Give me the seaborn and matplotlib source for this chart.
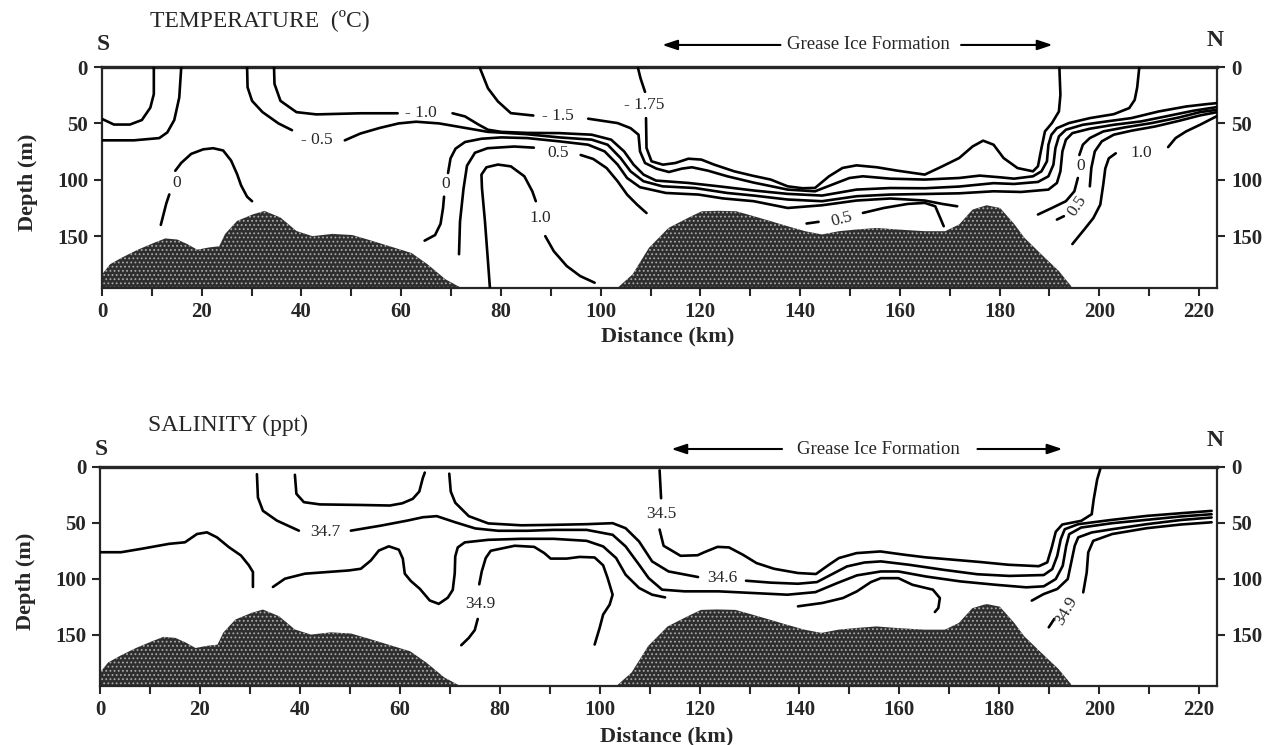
import pandas as pd
import seaborn as sns
import matplotlib.pyplot as plt

# ---------------- temperature section: isotherm strokes (km, depth m) ----------------
t_sw_inner = [(10.4, 0), (10.4, 24), (9.7, 36), (8.0, 47), (5.6, 51), (2.4, 51), (0, 46)]
t_sw_outer = [(15.9, 0), (15.5, 27), (14.5, 47), (13.1, 58), (11.5, 63), (6.4, 65), (0, 65)]
t_0_dome_lo = [(11.8, 140), (12.9, 121), (13.5, 113)]
t_0_dome_hi = [(14.7, 92), (15.9, 85), (17.9, 77), (20.3, 73), (22.3, 72), (24.3, 74), (25.9, 83),
               (27.1, 95), (27.9, 105), (29.1, 115), (30.1, 119)]
t_m05_a = [(29.1, 0), (29.2, 18), (30.1, 30), (32.2, 40), (35.4, 50), (38.1, 56)]
t_m05_b = [(48.7, 65), (51.8, 59), (55.7, 54), (59.5, 50), (63, 48.5), (67.6, 50), (70.9, 52.5),
           (74.8, 55.5), (77.4, 57.5), (85, 59.5), (91.7, 62.4), (98.2, 64.4), (101.4, 68.9),
           (104, 80.7), (106, 92.5), (108.6, 101.3), (112.4, 105.8), (118.9, 107.3), (125.4, 111.7),
           (130.7, 114), (137.5, 117.5), (144.4, 119), (151.3, 114.6), (158.1, 113.1), (165, 112.6),
           (171.9, 112), (178.8, 110.2), (184.3, 110.8), (189.8, 108.7), (191.5, 102.8), (192.2, 92.5),
           (192.6, 74.8), (193.3, 64.5), (194.6, 58.6), (198.1, 54.7), (202.9, 51.2), (208.4, 48.2),
           (213.3, 43.8), (218.8, 38.8), (223.6, 35.5)]
t_m10_a = [(34.5, 0), (34.6, 15), (35.8, 30), (39, 40), (43, 42), (51.8, 41), (59.3, 41)]
t_m10_b = [(70.3, 41), (72.8, 43.8), (75.5, 51), (77.4, 55.6), (80.1, 57.5), (85.3, 58.4), (91.7, 58.6),
           (98.2, 60), (102.1, 64.4), (104.7, 74.8), (106.6, 86.5), (108.6, 95.4), (111.1, 100.7),
           (117.6, 102.8), (124.1, 106), (130.7, 109.5), (137.5, 112.5), (144.4, 114), (151.3, 108.7),
           (158.1, 107.3), (165, 107.5), (171.9, 106), (178.8, 103), (182.9, 103.7), (187.7, 101.9),
           (189.8, 96.9), (190.8, 86.6), (191.2, 71.9), (191.9, 61.5), (193.3, 55.6), (196.7, 51.2),
           (201.5, 48.2), (206.4, 45.3), (211.9, 39.4), (217.4, 35), (221.5, 32.9), (223.6, 32)]
t_m15_a = [(75.8, 1), (77.4, 18.8), (79.4, 30.5), (82, 40.9), (86.5, 43)]
t_m15_b = [(97.5, 45.8), (103.4, 49.7), (106, 54.2), (107.6, 60), (107.9, 74.8), (108.9, 85.1),
           (111.2, 90.1), (113.7, 93.1), (116.3, 90.1), (118.3, 88.9), (121.5, 91.9), (125.4, 96.9),
           (130.7, 102.5), (137.5, 108.7), (143, 110.2), (146.5, 104.2), (149.9, 98.4), (152.6, 96.9),
           (158.1, 99), (165, 99.8), (171.9, 98.4), (176, 96.3), (180.1, 97.8), (182.9, 99),
           (186.7, 96.9), (188.4, 92.5), (189.5, 83.6), (189.8, 68.9), (190.4, 60), (191.5, 54.2),
           (193.9, 49.7), (198.1, 45.3), (202.9, 41.8), (206, 36.4), (207.1, 29.1), (207.6, 18), (208, 1)]
t_m175_a = [(107.5, 1), (108, 10), (108.9, 22)]
t_m175_b = [(109.1, 45.3), (109.2, 71.8), (110.2, 83.6), (112.5, 86.6), (115, 85.1), (117.6, 81.3),
            (120.2, 82.1), (122.8, 86.6), (126.8, 92.5), (130.6, 96.5), (134.1, 99.8), (137.5, 105.8),
            (140.5, 107.5), (143, 107.2), (145.8, 96.9), (148.5, 89.5), (151.3, 87.2), (155.4, 88.9),
            (159.5, 91.9), (165, 95.4), (168.5, 88.1), (171.9, 80.7), (174.6, 70.4), (176.7, 65.3),
            (178.8, 68.9), (180.8, 80.7), (183.6, 89.6), (186.7, 92.5), (187.7, 88), (188.4, 71.9),
            (189.1, 57.1), (190.5, 49.7), (191.9, 39.4), (192.2, 24.6), (192, 1)]
t_0_lo = [(64.7, 154), (66.8, 149), (67.9, 139), (68.4, 125), (68.6, 115)]
t_0_hi = [(69.4, 94), (69.9, 81), (70.9, 72.4), (72.8, 66.5), (76.1, 63.6), (80.1, 62.4), (85.3, 63),
          (91.7, 65.9), (97.5, 68.9), (100.8, 74.8), (103.4, 86.5), (105.3, 98.4), (107.9, 106.6),
          (113.1, 111.7), (119.6, 113.1), (124.5, 116.5), (130.7, 119), (137.5, 125), (144.4, 122.6),
          (151.3, 118.4), (158.1, 116.6), (165, 118.4), (168.5, 121.4), (171.5, 123.5)]
t_0_n_lo = [(187.7, 130.8), (190.5, 125), (193.3, 119), (195, 110.2), (195.7, 98.4)]
t_0_n_hi = [(196, 78), (196.7, 68.9), (198.1, 63), (200.8, 57.1), (205, 53.6), (210.5, 49.7),
            (216, 44.7), (220.2, 40), (223.6, 37.9)]
t_05_w = [(71.6, 166), (71.8, 137), (72.5, 108), (73.2, 87.5), (74.8, 76), (77.3, 72), (82.7, 70.5),
          (86.6, 71.5)]
t_05_c = [(96, 78), (98.5, 81.5), (101.2, 89.6), (103.4, 101.3), (105.3, 113.1), (107.3, 122),
          (109.2, 129.5)]
t_05_tr_dash = [(141.3, 138.8), (143.7, 137.3)]
t_05_tr = [(152.6, 129.4), (156.8, 125), (161.6, 121.4), (165, 120.5), (167.1, 123.5), (168.1, 133.8),
           (168.8, 141.2)]
t_05_n_dash = [(191.5, 135.3), (192.9, 132.3)]
t_05_n = [(198.1, 105.8), (198.4, 89.5), (199.1, 74.8), (200.5, 65.9), (202.9, 60), (206.4, 56.5),
          (211.2, 52.7), (216, 47.7), (220.2, 42.9), (223.6, 40)]
t_10_dome = [(77.8, 196), (77.4, 172), (76.8, 136.7), (76.2, 107.3), (76.1, 95.4), (77.1, 88.9),
             (79.4, 86.5), (82, 88.1), (84.7, 96.9), (86.3, 110.2), (87, 119)]
t_10_tail = [(88.9, 150), (90.6, 163.3), (93.2, 176.5), (95.9, 185.4), (98.8, 191.3)]
t_10_n_lo = [(194.6, 157), (197, 144), (198.8, 134), (200.2, 122), (200.8, 104), (201.2, 90),
             (201.9, 81), (203.3, 76.5)]
t_10_n_hi = [(213.8, 71), (215.3, 63), (217.4, 57.1), (220.2, 51.2), (223.6, 43.5)]

# contour labels: text, km, depth, rotation
temp_labels = [("- 1.0", 64.0, 40.5, 0), ("- 0.5", 43.0, 64.5, 0), ("0", 14.9, 103, 0),
               ("0", 69.0, 104, 0), ("- 1.5", 91.5, 43.5, 0), ("- 1.75", 108.8, 33.5, 0),
               ("0.5", 91.5, 76, 0), ("1.0", 87.8, 134, 0), ("0.5", 148.3, 135.5, 15),
               ("0", 196.2, 88, 0), ("0.5", 195.5, 123, 55), ("1.0", 208.4, 76, 0)]

# ---------------- salinity section: isohaline strokes (km, depth m) ----------------
s_sw = [(0, 76.3), (4.2, 76.3), (8.2, 73.3), (13.8, 68.8), (17, 67.4), (19.4, 60), (21.4, 58.5),
        (23.4, 63), (25.8, 71.8), (28.2, 79.2), (29.8, 88.1), (30.6, 94), (30.6, 107.4)]
s_cup = [(39, 7), (39.3, 24), (40.8, 31.5), (44, 33.5), (52, 34), (58, 34.5), (60.5, 32.5),
         (62.6, 28.5), (63.9, 22), (64.6, 10), (65, 5)]
s_347_a = [(31.4, 6.5), (31.6, 27.3), (32.6, 39.2), (35.4, 48), (39.8, 57)]
s_347_b = [(50.2, 57), (56.2, 52.5), (61.5, 48), (64.6, 45), (67.4, 44), (71.1, 49.5), (75.1, 55),
           (79.7, 57.1), (85.6, 57.1), (90.8, 56.3), (97.4, 56.3), (102.6, 60.7), (105.2, 71.1),
           (107.9, 87.5), (109.8, 99.4), (112.5, 109.8), (117, 111.3), (123.8, 111.3), (130.7, 112.8),
           (137.6, 114.3), (143.2, 112), (147.5, 104), (151.5, 97), (156.3, 93.5), (159.8, 93.5),
           (165.3, 98), (172.2, 102.4), (179.2, 105.4), (185.4, 107.7), (188.9, 106.8), (191.3, 100.3),
           (192.7, 88.4), (193.4, 70.5), (194, 60.1), (196.4, 54.2), (202.6, 50.3), (209.5, 47.3),
           (216.3, 44.3), (222.5, 42.3)]
s_346_a = [(69.9, 6), (70.2, 22), (71.1, 32), (73.8, 44), (77.7, 50.5), (84.3, 52.2), (90.8, 51.8),
           (97.4, 51.2), (102.6, 50.3), (105.2, 54.8), (107.9, 66.7), (110.5, 84.5), (113.8, 93.5),
           (119.7, 98.5)]
s_346_b = [(129.3, 101.8), (134.2, 103.5), (139.7, 104.5), (143.5, 103), (146.5, 96), (149.5, 89),
           (153, 85.5), (156.3, 84.5), (161.9, 87.5), (168.8, 92), (175.6, 96), (182, 97.5),
           (188.9, 96.7), (190.6, 91.4), (191.6, 79.5), (192.3, 64.6), (193.1, 55.7), (195.8, 51.2),
           (202.6, 47.3), (209.5, 43.8), (216.3, 41.4), (222.5, 39.3)]
s_345_a = [(112, 3), (112.3, 28)]
s_345_b = [(112, 56), (112.8, 70.5), (116.2, 79.5), (119.6, 79), (121, 76.2), (123.6, 71.5),
           (125.9, 72), (128.7, 78.6), (131.4, 86), (134.9, 91.1), (139.7, 94.9), (143.3, 95.8),
           (145.9, 87.5), (147.9, 81.5), (151.4, 77.1), (156.2, 75.6), (161.1, 78.6), (165.3, 80.9),
           (170.8, 83), (176.3, 85.1), (181.8, 87.5), (187.9, 88.8), (189.6, 85.4), (190.5, 72),
           (191.3, 58), (192.6, 51.5), (196.4, 48.2), (198.5, 42.3), (198.9, 28.9), (199.6, 11),
           (200.2, 2)]
s_dip = [(34.6, 107.4), (37, 100), (41, 95.5), (49.8, 92.6), (52.2, 91.1), (54.2, 83.7), (55.8, 74.8),
         (57.8, 71), (59.8, 74), (60.6, 82), (61, 95.5), (62.2, 102), (64, 109), (66, 119.5),
         (67.8, 122.5), (69.6, 117), (70.6, 110), (71, 95), (71.1, 80), (71.6, 72), (73, 67.5),
         (77.7, 65.2), (84.3, 64.3), (90.8, 64.3), (97.4, 66.1), (100.7, 71.1), (103.3, 81.5),
         (105.2, 96.4), (107.9, 108.3), (110.5, 114.3), (113.1, 116.7)]
s_349_a = [(75.9, 105), (76.4, 93.5), (77.2, 81.5), (78.2, 75), (83, 70.5), (86.9, 71.5), (88.9, 77),
           (90.2, 82), (93.4, 82), (96, 80.5), (99, 81), (100.7, 88), (101.6, 99.4), (102.6, 114.3),
           (102, 123.2), (100.7, 132.1), (100, 144), (99, 158.9)]
s_349_b = [(75.6, 136), (75, 146), (73.8, 153), (72.3, 159.5)]
s_hook = [(139.7, 124.7), (144.6, 121.7), (148.7, 117.3), (151.5, 111.3), (154.3, 103), (156.3, 99.5),
          (159.8, 99.5), (162.6, 105.4), (166.7, 109.8), (168.1, 117.3), (167.8, 126.2), (167.1, 129.8)]
s_n4 = [(186.5, 119.6), (188.9, 113.7), (191.6, 109.2), (193.7, 100.3), (194.4, 85.4), (195.1, 70.5),
        (195.8, 63), (198.5, 58.6), (202.6, 55.7), (209.5, 51.2), (216.3, 47.5), (222.5, 45.2)]
s_349_n_dash = [(189.9, 143.5), (191, 136)]
s_349_n = [(196.8, 112.2), (197.5, 94.3), (197.8, 76.5), (198.8, 66.1), (202.6, 60), (209.5, 54.8),
           (216.3, 51.5), (222.5, 49.5)]

sal_labels = [("34.7", 45.0, 58.5, 0), ("34.6", 124.6, 99, 0), ("34.5", 112.4, 42, 0),
              ("34.9", 76.1, 123, 0), ("34.9", 193.4, 128.6, 60)]

# ---------------- bottom topography (same transect in both sections) ----------------
bathy_s_km = [0, 1.6, 4, 7.2, 10.4, 12.7, 15.1, 17.1, 19.1, 21.5, 23.5, 24.7, 27.1, 30.3, 32.6, 35.8,
              39, 42.2, 46.2, 50.2, 53.3, 58.1, 62.1, 65.3, 68.9, 72.5]
bathy_s_depth = [184, 175, 169, 162, 156, 152, 153, 157, 162, 160, 159, 148, 136.5, 130.6, 127.6, 133.5,
                 145.4, 150, 148, 149, 153, 159.5, 165, 175, 188.3, 197]
bathy_n_km = [103.1, 106.4, 109.7, 113.6, 118.2, 120.3, 123.5, 127.2, 130.7, 134.1, 137.5, 141, 144.4,
              147.8, 151.3, 155.4, 159.5, 165, 169.1, 171.9, 174.6, 177.4, 180.1, 182.9, 185, 188.4,
              191.9, 194.3, 194.6]
bathy_n_depth = [197, 183.9, 160.3, 142.7, 132.3, 127.9, 127.5, 127.9, 132.3, 136.7, 141.2, 145.6, 148.5,
                 145.6, 144.1, 142.7, 144.1, 145.6, 145.6, 139.6, 126.4, 122.6, 125, 139, 151.5, 166.2,
                 181, 194, 197]

X_MAX = 223.6
Y_MAX = 196

temp_strokes = dict(sw_inner=t_sw_inner, sw_outer=t_sw_outer, dome_lo=t_0_dome_lo, dome_hi=t_0_dome_hi,
                    m05a=t_m05_a, m05b=t_m05_b, m10a=t_m10_a, m10b=t_m10_b, m15a=t_m15_a, m15b=t_m15_b,
                    m175a=t_m175_a, m175b=t_m175_b, z_lo=t_0_lo, z_hi=t_0_hi, zn_lo=t_0_n_lo,
                    zn_hi=t_0_n_hi, p05w=t_05_w, p05c=t_05_c, p05td=t_05_tr_dash, p05t=t_05_tr,
                    p05nd=t_05_n_dash, p05n=t_05_n, p10d=t_10_dome, p10t=t_10_tail, p10nl=t_10_n_lo,
                    p10nh=t_10_n_hi)
sal_strokes = dict(sw=s_sw, cup=s_cup, a347=s_347_a, b347=s_347_b, a346=s_346_a, b346=s_346_b,
                   a345=s_345_a, b345=s_345_b, dip=s_dip, a349=s_349_a, b349=s_349_b, hook=s_hook,
                   n4=s_n4, n349d=s_349_n_dash, n349=s_349_n)


def to_frame(strokes):
    rows = []
    for name, pts in strokes.items():
        for km, d in pts:
            rows.append((name, km, d))
    return pd.DataFrame(rows, columns=["stroke", "km", "depth"])


sns.set_style("ticks")
plt.rcParams["font.family"] = ["Liberation Serif", "DejaVu Serif"]
plt.rcParams["hatch.linewidth"] = 0.8

fig = plt.figure(figsize=(12.73, 7.45), dpi=100)
ax_t = fig.add_axes([0.0801, 0.6134, 0.8759, 0.2966])
ax_s = fig.add_axes([0.0786, 0.0792, 0.8775, 0.2940])

panels = [
    (ax_t, temp_strokes, temp_labels, "TEMPERATURE  (\u00baC)", 1.213, 1.10, 1.122,
     (0.500, 0.611, 0.768, 0.855), 0.687, -0.176),
    (ax_s, sal_strokes, sal_labels, "SALINITY (ppt)", 1.192, 1.082, 1.123,
     (0.509, 0.613, 0.783, 0.864), 0.697, -0.183),
]

for ax, strokes, labels, title, ty, sy, ny, arr, gx, xly in panels:
    ax.fill_between(bathy_s_km, bathy_s_depth, 210, facecolor="#2e2e2e", edgecolor="#a8a8a8",
                    hatch="....", linewidth=0, zorder=1)
    ax.fill_between(bathy_n_km, bathy_n_depth, 210, facecolor="#2e2e2e", edgecolor="#a8a8a8",
                    hatch="....", linewidth=0, zorder=1)
    sns.lineplot(data=to_frame(strokes), x="km", y="depth", units="stroke", estimator=None,
                 sort=False, color="black", linewidth=1.9, legend=False, ax=ax, zorder=3,
                 solid_capstyle="round", solid_joinstyle="round")
    for txt, km, d, rot in labels:
        ax.text(km, d, txt, ha="center", va="center", rotation=rot, fontsize=12.5, zorder=4)

    ax.set_xlim(0, X_MAX)
    ax.set_ylim(Y_MAX, 0)
    ax.set_xticks(range(0, 221, 20))
    ax.set_xticks(range(10, 221, 20), minor=True)
    ax.set_yticks([0, 50, 100, 150])
    ax.tick_params(axis="both", which="both", direction="out", length=6, width=1.5,
                   labelsize=15, right=True, labelright=True, top=False, pad=4)
    ax.tick_params(axis="y", which="minor", length=0)
    for lab in ax.get_xticklabels() + ax.get_yticklabels():
        lab.set_fontweight("bold")
    ax.set_xlabel("")
    ax.set_ylabel("")
    for side in ["left", "right", "bottom"]:
        ax.spines[side].set_linewidth(1.6)
    ax.spines["top"].set_linewidth(2.4)

    ax.text(0.507, xly, "Distance (km)", transform=ax.transAxes, ha="center", va="top",
            fontsize=16, fontweight="bold")
    ax.text(-0.066, 0.48, "Depth (m)", transform=ax.transAxes, ha="center", va="center",
            rotation=90, fontsize=16, fontweight="bold")
    ax.text(0.043, ty, title, transform=ax.transAxes, ha="left", va="center", fontsize=17)
    ax.text(0.001, sy, "S", transform=ax.transAxes, ha="center", va="center", fontsize=17,
            fontweight="bold")
    ax.text(0.998, ny, "N", transform=ax.transAxes, ha="center", va="center", fontsize=17,
            fontweight="bold")
    ax.text(gx, sy, "Grease Ice Formation", transform=ax.transAxes, ha="center", va="center",
            fontsize=13.5)
    ax.annotate("", xy=(arr[0], sy), xytext=(arr[1], sy), xycoords="axes fraction",
                arrowprops=dict(arrowstyle="-|>,head_length=0.9,head_width=0.3", color="black", lw=1.5))
    ax.annotate("", xy=(arr[3], sy), xytext=(arr[2], sy), xycoords="axes fraction",
                arrowprops=dict(arrowstyle="-|>,head_length=0.9,head_width=0.3", color="black", lw=1.5))

fig.savefig("out.png", dpi=100)
